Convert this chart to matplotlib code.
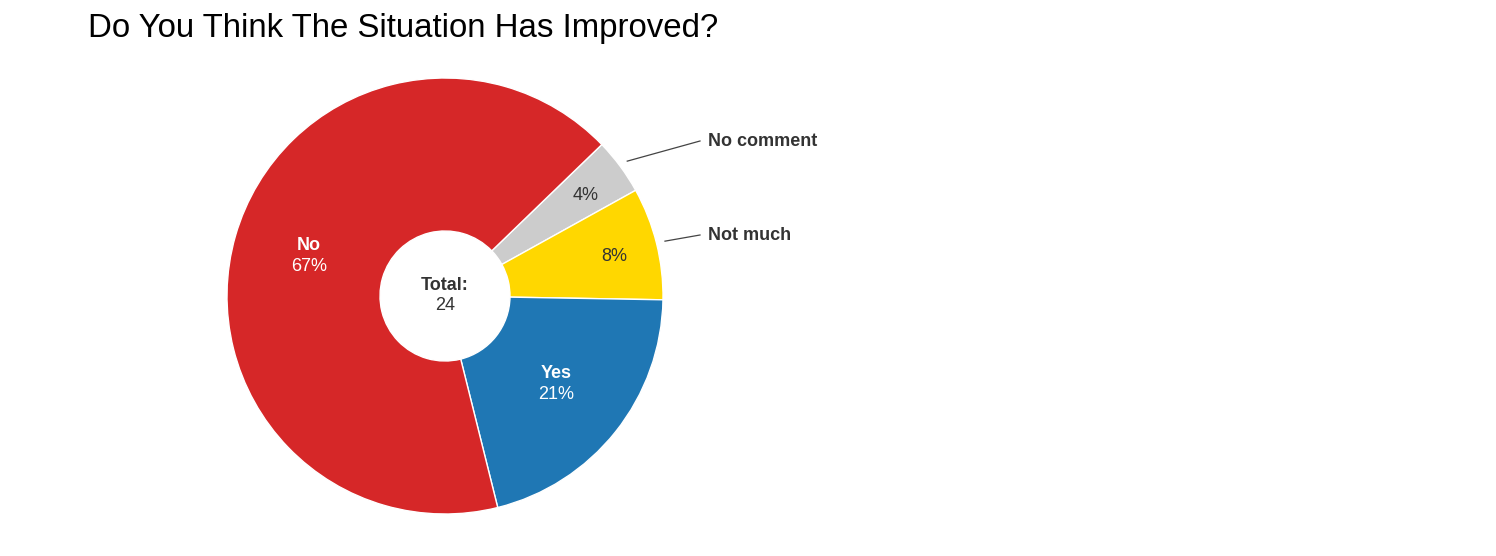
import matplotlib.pyplot as plt
import numpy as np

plt.rcParams['font.family'] = ['Liberation Sans', 'DejaVu Sans']

# data
labels = ['No comment', 'Not much', 'Yes', 'No']
counts = [1, 2, 5, 16]
colors = ['#cccccc', '#ffd700', '#1f77b4', '#d62728']
title = 'Do You Think The Situation Has Improved?'

W, H = 1496, 556
fig = plt.figure(figsize=(W / 100, H / 100), dpi=100)
ax = fig.add_axes([0, 0, 1, 1])

cx, cy, R = 445, H - 296, 218
wedges, _ = ax.pie(counts, colors=colors, startangle=44, counterclock=False,
                   center=(cx, cy), radius=R,
                   wedgeprops=dict(edgecolor='white', linewidth=1, width=R - 65))
ax.set_xlim(0, W)
ax.set_ylim(0, H)
ax.set_aspect('equal')
ax.axis('off')

total = sum(counts)
for w, lab, n in zip(wedges, labels, counts):
    mid = np.deg2rad((w.theta1 + w.theta2) / 2)
    pct = '%d%%' % round(100 * n / total)
    if n / total > 0.15:
        r = 0.65 * R
        x, y = cx + r * np.cos(mid), cy + r * np.sin(mid)
        ax.text(x, y + 11, lab, color='white', fontsize=13, fontweight='bold',
                ha='center', va='center')
        ax.text(x, y - 10, pct, color='white', fontsize=13, ha='center', va='center')
    else:
        r = 0.8 * R
        x, y = cx + r * np.cos(mid), cy + r * np.sin(mid) - 3
        ax.text(x, y, pct, color='#333333', fontsize=13, ha='center', va='center')

# outside labels with leader lines
out_pos = {'No comment': (H - 141), 'Not much': (H - 235)}
for w, lab in zip(wedges, labels):
    if lab in out_pos:
        mid = np.deg2rad((w.theta1 + w.theta2) / 2)
        r = R * 1.04
        x0, y0 = cx + r * np.cos(mid), cy + r * np.sin(mid)
        ty = out_pos[lab]
        ax.plot([x0, 700], [y0, ty], color='#444444', lw=0.9)
        ax.text(708, ty, lab, color='#333333', fontsize=13, fontweight='bold',
                ha='left', va='center')

ax.text(cx, cy + 11, 'Total:', color='#333333', fontsize=13, fontweight='bold',
        ha='center', va='center')
ax.text(cx, cy - 10, str(total), color='#333333', fontsize=13,
        ha='center', va='center')

fig.text(88 / W, 1 - 29 / H, title, fontsize=23.8, color='black',
         ha='left', va='center')

fig.savefig('out.png', dpi=100, facecolor='white')
